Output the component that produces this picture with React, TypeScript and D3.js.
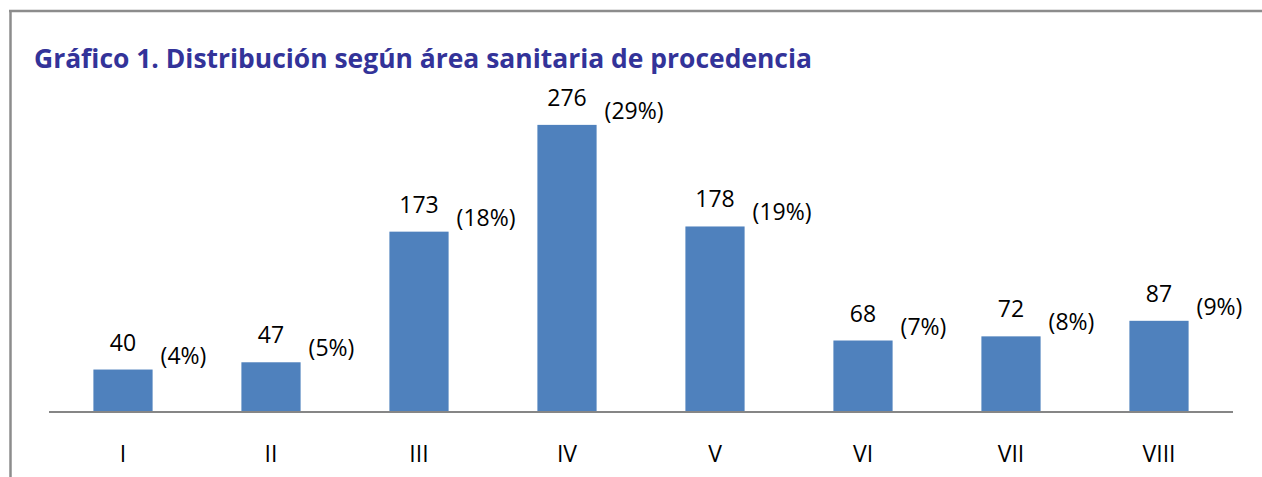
import React, { useEffect } from 'react';
import * as d3 from 'd3';

// area sanitaria (categories) and counts
const areas = ['I', 'II', 'III', 'IV', 'V', 'VI', 'VII', 'VIII'];
const counts = [40, 47, 173, 276, 178, 68, 72, 87];
const percents = ['(4%)', '(5%)', '(18%)', '(29%)', '(19%)', '(7%)', '(8%)', '(9%)'];

const W = 1262;
const H = 477;
const margin = { top: 100, right: 29, bottom: 66, left: 49 };
const labelFont = '"Open Sans", "Liberation Sans", sans-serif';

const App = () => {
  useEffect(() => {
    document.body.style.margin = '0';
  }, []);

  const baseY = H - margin.bottom; // 411

  const x = d3.scaleBand<string>()
    .domain(areas)
    .range([margin.left, W - margin.right])
    .paddingInner(0.6)
    .paddingOuter(0.3);

  const y = d3.scaleLinear()
    .domain([0, 300])
    .range([baseY, margin.top]);

  const bw = x.bandwidth();

  return (
    <svg width={W} height={H} style={{ display: 'block', background: '#fff' }}>
      {/* frame */}
      <line x1={9} x2={W} y1={11} y2={11} stroke="#8c8c8c" strokeWidth={2.5} />
      <line x1={10.5} x2={10.5} y1={10} y2={H} stroke="#8c8c8c" strokeWidth={2.5} />

      <text
        x={34}
        y={68}
        fill="#333399"
        fontFamily={labelFont}
        fontWeight="bold"
        fontSize={27}
        textLength={778}
        lengthAdjust="spacingAndGlyphs"
      >
        Gráfico 1. Distribución según área sanitaria de procedencia
      </text>

      {/* bars */}
      {areas.map((a, i) => (
        <rect
          key={a}
          x={x(a)}
          y={y(counts[i])}
          width={bw}
          height={baseY - y(counts[i])}
          fill="#4f81bd"
        />
      ))}

      {/* axis line */}
      <line x1={margin.left} x2={W - margin.right} y1={baseY + 1} y2={baseY + 1} stroke="#868686" strokeWidth={2} />

      {/* value labels */}
      {areas.map((a, i) => (
        <text
          key={'v' + a}
          x={(x(a) as number) + bw / 2}
          y={y(counts[i]) - 19}
          textAnchor="middle"
          fontFamily={labelFont}
          fontSize={23}
          fill="#000"
        >
          {counts[i]}
        </text>
      ))}

      {/* percent labels */}
      {areas.map((a, i) => (
        <text
          key={'p' + a}
          x={(x(a) as number) + bw + 8}
          y={y(counts[i]) - 19 + 13}
          fontFamily={labelFont}
          fontSize={23}
          fill="#000"
        >
          {percents[i]}
        </text>
      ))}

      {/* category labels */}
      {areas.map((a) => (
        <text
          key={'c' + a}
          x={(x(a) as number) + bw / 2}
          y={462}
          textAnchor="middle"
          fontFamily={labelFont}
          fontSize={23}
          fill="#000"
        >
          {a}
        </text>
      ))}
    </svg>
  );
};

export default App;
